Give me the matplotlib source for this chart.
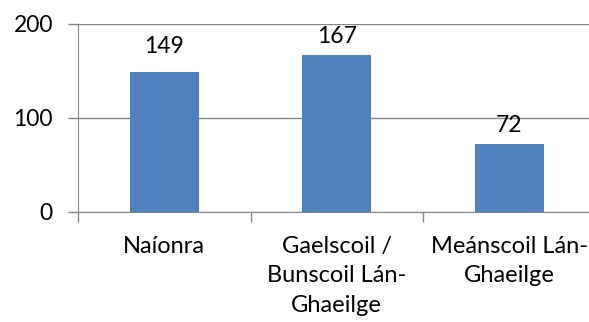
import matplotlib.pyplot as plt

categories = ["Naíonra", "Gaelscoil /\nBunscoil Lán-\nGhaeilge", "Meánscoil Lán-\nGhaeilge"]
values = [149, 167, 72]
yticks = [0, 100, 200]

plt.rcParams["font.family"] = ["Lato", "DejaVu Sans"]

fig = plt.figure(figsize=(5.89, 3.22), dpi=100)
ax = fig.add_axes([78 / 589, 1 - 212 / 322, 1 - 78 / 589, (212 - 24) / 322])

x = list(range(len(values)))
bars = ax.bar(x, values, width=0.4, color="#4F81BD", zorder=3)
# the first label sits a little higher in the original
label_pad = [11, 6, 6]
for b, v, p in zip(bars, values, label_pad):
    ax.annotate(str(v), (b.get_x() + b.get_width() / 2, v), xytext=(0, p),
                textcoords="offset points", ha="center", va="bottom", fontsize=16.5)

ax.set_ylim(0, 200)
ax.set_xlim(-0.5, -0.5 + (589 - 78) / 172.5)
ax.set_yticks(yticks)
ax.tick_params(axis="y", length=7, width=1, color="#868686", labelsize=16.5, pad=11)
ax.yaxis.grid(True, color="#868686", linewidth=1, zorder=0)

# category boundaries get tick marks, labels sit between them
ax.set_xticks([i - 0.5 for i in x])
ax.set_xticklabels([])
ax.set_xticks(x, minor=True)
ax.set_xticklabels(categories, minor=True, fontsize=17, linespacing=1.5)
ax.tick_params(axis="x", which="major", length=7, width=1, color="#868686")
ax.tick_params(axis="x", which="minor", length=0, pad=17)

for side in ["top", "right"]:
    ax.spines[side].set_visible(False)
for side in ["left", "bottom"]:
    ax.spines[side].set_color("#868686")

fig.savefig("out.png", dpi=100)
